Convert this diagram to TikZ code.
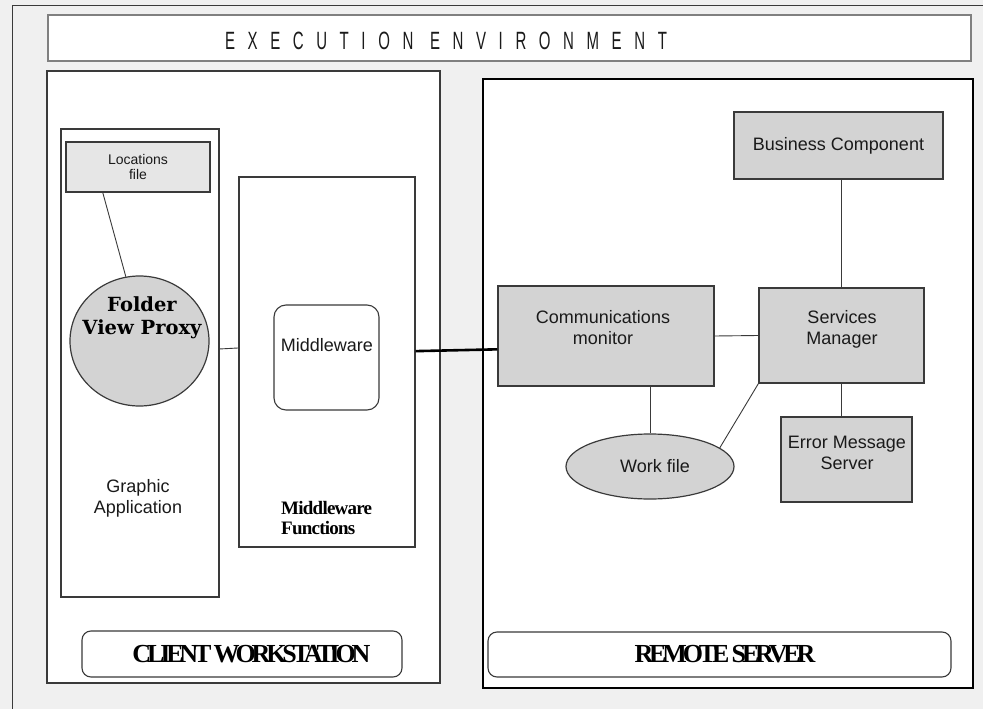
\documentclass[tikz,border=0pt]{standalone}
\usepackage{fontspec}
\setmainfont{Liberation Serif}
\setsansfont{Liberation Sans}
\newfontfamily\proxyfont{DejaVu Serif}
\usepackage{graphicx}
\usepackage{tikz}
\usetikzlibrary{positioning, shapes.geometric}
\definecolor{bg}{HTML}{F0F0F0}
\definecolor{boxgray}{HTML}{D3D3D3}
\definecolor{filegray}{HTML}{E6E6E6}
\definecolor{ink}{HTML}{1A1A1A}
\definecolor{linegray}{HTML}{3A3A3A}

\begin{document}
\begin{tikzpicture}[x=1pt, y=-1pt,
  sans/.style={font=\sffamily\fontsize{18}{21}\selectfont, text=ink, align=center, inner sep=0pt},
  big label/.style={font=\rmfamily\bfseries\fontsize{26}{26}\selectfont\addfontfeature{LetterSpace=-16}, text=black, inner sep=0pt},
  frame box/.style={draw=#1, fill=white, line width=1.3pt, inner sep=0pt},
  gray box/.style={draw=linegray, fill=boxgray, line width=1.2pt, inner sep=0pt,
    font=\sffamily\fontsize{18}{21}\selectfont, text=ink, align=center},
  label box/.style={draw=linegray, fill=white, rounded corners=9pt, line width=1.1pt, inner sep=0pt},
  link/.style={draw=linegray, line width=0.9pt}]

\useasboundingbox[fill=bg] (0,0) rectangle (983,709);
\draw[linegray, line width=1.2pt] (12.5,709) -- (12.5,5.5) -- (983,5.5);

\node[frame box=gray, line width=2pt, minimum width=923pt, minimum height=46pt] (env) at (509.5,38) {};
\node[font=\sffamily\fontsize{25}{25}\selectfont\addfontfeature{LetterSpace=84}, text=ink, inner sep=0pt] (envtitle) at (446,40.5) {\scalebox{0.6}[1]{EXECUTION ENVIRONMENT}};

\node[frame box=linegray, line width=1.5pt, minimum width=393pt, minimum height=612pt] (client) at (243.5,377) {};
\node[frame box=black, minimum width=490pt, minimum height=609pt] (remote) at (728,383.5) {};

\node[frame box=linegray, line width=1.1pt, minimum width=158pt, minimum height=468pt] (gapp) at (140,363) {};
\node[gray box, fill=filegray, minimum width=144pt, minimum height=50pt, font=\sffamily\fontsize{14}{15}\selectfont] (locf) at (138,167) {Locations\\file};
\node[gray box, ellipse, minimum width=139pt, minimum height=130pt] (fvp) at (139.5,341) {};
\node[font=\proxyfont\bfseries\fontsize{19.5}{23}\selectfont, align=center, inner sep=0pt] (fvptext) at (142,318) {Folder\\View Proxy};
\node[sans] (gapptext) at (138,498) {Graphic\\Application};

\node[frame box=linegray, line width=1.1pt, minimum width=176pt, minimum height=370pt] (mwf) at (327,362) {};
\node[label box, rounded corners=12pt, minimum width=105pt, minimum height=105pt] (mw) at (326.5,357.5) {};
\node[sans] (mwtext) at (327,345.5) {Middleware};
\node[font=\rmfamily\bfseries\fontsize{19}{20}\selectfont\addfontfeature{LetterSpace=-4}, align=left, anchor=west, inner sep=0pt] (mwftext) at (281,518.5) {Middleware\\Functions};

\node[label box, minimum width=320pt, minimum height=46pt] (cw) at (242,654) {};
\node[big label] (cwtext) at (251.5,654) {CLIENT WORKSTATION};
\node[label box, minimum width=463pt, minimum height=45pt] (rs) at (719.5,654.5) {};
\node[big label] (rstext) at (725,654.5) {REMOTE SERVER};

\node[gray box, minimum width=209pt, minimum height=67pt] (bc) at (838.5,145.5) {Business Component};
\node[gray box, minimum width=216pt, minimum height=100pt] (cm) at (606,336) {};
\node[sans] (cmtext) at (603,328) {Communications\\monitor};
\node[gray box, minimum width=165pt, minimum height=95pt] (sm) at (841.5,335.5) {};
\node[sans] (smtext) at (842,329.5) {Services\\Manager};
\node[gray box, minimum width=131pt, minimum height=85pt] (ems) at (846.5,459.5) {};
\node[sans] (emstext) at (847,452.5) {Error Message\\Server};
\node[gray box, ellipse, minimum width=168pt, minimum height=65pt] (wf) at (650,466.5) {};
\node[sans] (wftext) at (655,466.5) {Work file};

\path[link]
(locf.216) edge (fvp.102)
(gapp.10) edge (mwf.171.6)
(cm.east) edge (sm.west)
(bc.south -| sm.north) edge (sm.north)
(cm.south -| wf.north) edge (wf.north)
(sm.south west) edge (wf.15)
(sm.south) edge (sm.south |- ems.north)
;
\draw[black, line width=2.6pt] (mwf.7.8) -- (cm.187.4);
\end{tikzpicture}
\end{document}
